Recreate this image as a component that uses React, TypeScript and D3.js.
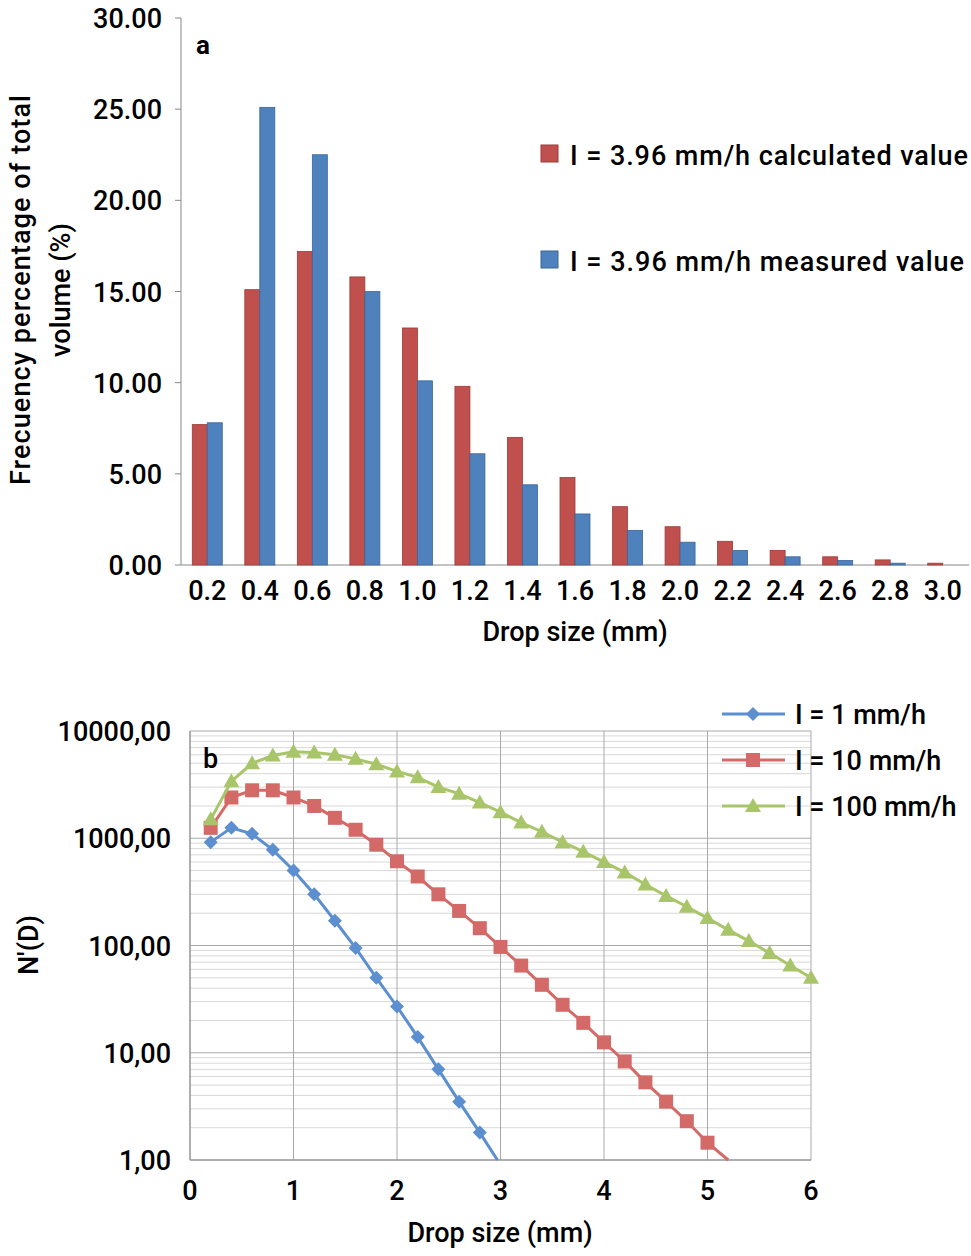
import React from "react";
import * as d3 from "d3";

const cats = [0.2,0.4,0.6,0.8,1.0,1.2,1.4,1.6,1.8,2.0,2.2,2.4,2.6,2.8,3.0];
const calc = [7.7,15.1,17.2,15.8,13.0,9.8,7.0,4.8,3.2,2.1,1.3,0.8,0.45,0.28,0.1];
const meas = [7.8,25.1,22.5,15.0,10.1,6.1,4.4,2.8,1.9,1.25,0.8,0.45,0.25,0.1,0];
const yTicksA = [0,5,10,15,20,25,30];

const xs1 = [0.2,0.4,0.6,0.8,1.0,1.2,1.4,1.6,1.8,2.0,2.2,2.4,2.6,2.8,2.97];
const s1 = [920,1250,1100,780,500,300,170,95,50,27,14,7,3.5,1.8,1.0];
const xs10 = [0.2,0.4,0.6,0.8,1.0,1.2,1.4,1.6,1.8,2.0,2.2,2.4,2.6,2.8,3.0,3.2,3.4,3.6,3.8,4.0,4.2,4.4,4.6,4.8,5.0,5.2];
const s10 = [1250,2400,2800,2800,2400,2000,1550,1200,870,610,440,300,210,145,97,65,43,28,19,12.5,8.3,5.3,3.5,2.3,1.45,1.0];
const xs100 = [0.2,0.4,0.6,0.8,1.0,1.2,1.4,1.6,1.8,2.0,2.2,2.4,2.6,2.8,3.0,3.2,3.4,3.6,3.8,4.0,4.2,4.4,4.6,4.8,5.0,5.2,5.4,5.6,5.8,6.0];
const s100 = [1500,3400,5000,5900,6400,6300,6000,5500,4900,4200,3700,3000,2600,2150,1750,1400,1150,920,750,600,480,370,290,230,180,140,110,85,65,50];
const yTicksB = [1,10,100,1000,10000];
const yLabelsB = ["1,00","10,00","100,00","1000,00","10000,00"];

const F = "Roboto, 'Liberation Sans', sans-serif";

export default function App() {
  const xA = d3.scaleBand<number>().domain(cats).range([181, 969]);
  const yA = d3.scaleLinear().domain([0, 30]).range([565, 18]);
  const bw = 15;
  const xB = d3.scaleLinear().domain([0, 6]).range([190, 811]);
  const yB = d3.scaleLog().domain([1, 10000]).range([1160, 731]);
  const line = (xs: number[], ys: number[]) =>
    d3.line<number>().x((_, i) => xB(xs[i])).y(d => yB(d))(ys) || "";
  const minor: number[] = [];
  for (let dec = 1; dec < 10000; dec *= 10) for (let k = 2; k <= 9; k++) minor.push(dec * k);
  const series = [
    { xs: xs1, ys: s1, c: "#5b8fd0", m: "diamond", label: "I = 1 mm/h" },
    { xs: xs10, ys: s10, c: "#d46a68", m: "square", label: "I = 10 mm/h" },
    { xs: xs100, ys: s100, c: "#a9c56a", m: "triangle", label: "I = 100 mm/h" },
  ];
  const marker = (m: string, x: number, y: number, c: string, k: string) => {
    if (m === "diamond") return <path key={k} d={`M${x},${y-7}L${x+7},${y}L${x},${y+7}L${x-7},${y}Z`} fill={c} />;
    if (m === "square") return <rect key={k} x={x-7} y={y-7} width={14} height={14} fill={c} />;
    return <path key={k} d={`M${x},${y-8}L${x+8},${y+6}L${x-8},${y+6}Z`} fill={c} />;
  };
  return (
    <svg width={971} height={1256} style={{ display: "block", position: "absolute", left: 0, top: 0 }} fontFamily={F} fontWeight={500}>
      <rect width={971} height={1256} fill="#fff" />
      <line x1={181} x2={181} y1={18} y2={565} stroke="#888" />
      <line x1={181} x2={969} y1={565} y2={565} stroke="#888" />
      {yTicksA.map(t => (
        <g key={t}>
          <line x1={175} x2={181} y1={yA(t)} y2={yA(t)} stroke="#888" />
          <text x={162} y={yA(t) + 10} fontSize={27} textAnchor="end">{t.toFixed(2)}</text>
        </g>
      ))}
      {cats.map((c, i) => {
        const cx = xA(c)! + xA.bandwidth() / 2;
        return (
          <g key={c}>
            <rect x={cx - bw} y={yA(calc[i])} width={bw} height={565 - yA(calc[i])} fill="#c0504d" stroke="#9e3a38" strokeWidth={0.8} />
            {meas[i] > 0 && <rect x={cx} y={yA(meas[i])} width={bw} height={565 - yA(meas[i])} fill="#4f81bd" stroke="#3a6698" strokeWidth={0.8} />}
            <text x={cx} y={600} fontSize={27} textAnchor="middle">{c.toFixed(1)}</text>
          </g>
        );
      })}
      <text x={196} y={54} fontSize={26} fontWeight="bold">a</text>
      <rect x={541} y={145} width={17} height={17} fill="#c0504d" stroke="#9e3a38" />
      <text x={570} y={165} fontSize={27} textLength={398}>I = 3.96 mm/h calculated value</text>
      <rect x={541} y={251} width={17} height={17} fill="#4f81bd" stroke="#3a6698" />
      <text x={570} y={271} fontSize={27} textLength={394}>I = 3.96 mm/h measured value</text>
      <text x={575} y={641} fontSize={27} textAnchor="middle">Drop size (mm)</text>
      <text transform="translate(30,290) rotate(-90)" fontSize={27} textAnchor="middle" textLength={390}>Frecuency percentage of total</text>
      <text transform="translate(70,290) rotate(-90)" fontSize={27} textAnchor="middle">volume (%)</text>
      {minor.map(v => <line key={v} x1={190} x2={811} y1={yB(v)} y2={yB(v)} stroke="#d8d8d8" />)}
      {yTicksB.map(v => <line key={v} x1={190} x2={811} y1={yB(v)} y2={yB(v)} stroke="#aaa" />)}
      {d3.range(0, 7).map(v => <line key={v} x1={xB(v)} x2={xB(v)} y1={731} y2={1160} stroke="#aaa" />)}
      <line x1={190} x2={190} y1={731} y2={1160} stroke="#888" />
      <line x1={190} x2={811} y1={1160} y2={1160} stroke="#888" />
      {yTicksB.map((v, i) => (
        <text key={v} x={171} y={yB(v) + 10} fontSize={27} textAnchor="end">{yLabelsB[i]}</text>
      ))}
      {d3.range(0, 7).map(v => (
        <text key={v} x={xB(v)} y={1200} fontSize={27} textAnchor="middle">{v}</text>
      ))}
      {series.map((s, si) => (
        <g key={si}>
          <path d={line(s.xs, s.ys)} fill="none" stroke={s.c} strokeWidth={3} />
          {s.ys.map((v, i) => v > 1.05 ? marker(s.m, xB(s.xs[i]), yB(v), s.c, `${si}-${i}`) : null)}
          <line x1={722} x2={785} y1={714 + si * 46} y2={714 + si * 46} stroke={s.c} strokeWidth={3} />
          {marker(s.m, 753, 714 + si * 46, s.c, `l${si}`)}
          <text x={795} y={724 + si * 46} fontSize={27}>{s.label}</text>
        </g>
      ))}
      <text x={203} y={768} fontSize={27}>b</text>
      <text x={500} y={1242} fontSize={27} textAnchor="middle">Drop size (mm)</text>
      <text transform="translate(38,945) rotate(-90)" fontSize={27} textAnchor="middle">N'(D)</text>
    </svg>
  );
}
